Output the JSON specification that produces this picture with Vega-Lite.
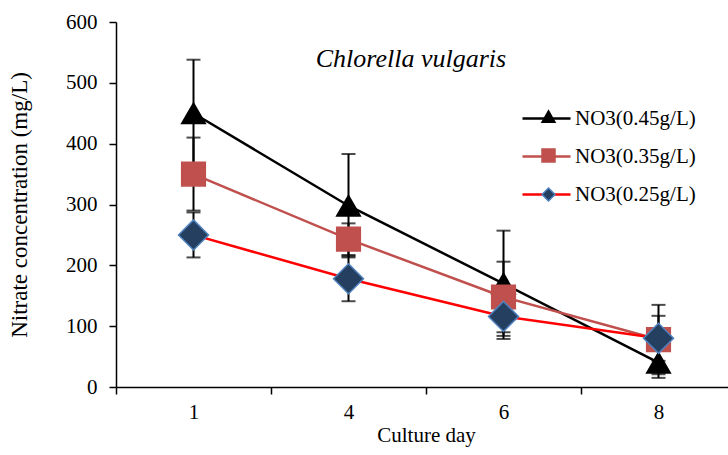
{
  "$schema": "https://vega.github.io/schema/vega-lite/v6.json",
  "width": 620,
  "height": 365,
  "autosize": {"type": "none"},
  "padding": {"left": 116, "top": 22, "right": -8, "bottom": 68},
  "background": "white",
  "title": {
    "text": "Chlorella vulgaris",
    "font": "Liberation Serif",
    "fontStyle": "italic",
    "fontWeight": "normal",
    "fontSize": 26,
    "color": "black",
    "anchor": "middle",
    "frame": "group",
    "baseline": "alphabetic",
    "offset": -82,
    "dx": -15
  },
  "data": {
    "values": [
      {"series": "NO3(0.45g/L)", "day": 1, "value": 450, "lo": 362, "hi": 538},
      {"series": "NO3(0.45g/L)", "day": 4, "value": 298, "lo": 213, "hi": 383},
      {"series": "NO3(0.45g/L)", "day": 6, "value": 170, "lo": 84, "hi": 257},
      {"series": "NO3(0.45g/L)", "day": 8, "value": 40, "lo": 15, "hi": 65},
      {"series": "NO3(0.35g/L)", "day": 1, "value": 350, "lo": 290, "hi": 410},
      {"series": "NO3(0.35g/L)", "day": 4, "value": 243, "lo": 217, "hi": 269},
      {"series": "NO3(0.35g/L)", "day": 6, "value": 148, "lo": 90, "hi": 206},
      {"series": "NO3(0.35g/L)", "day": 8, "value": 78, "lo": 21, "hi": 135},
      {"series": "NO3(0.25g/L)", "day": 1, "value": 250, "lo": 213, "hi": 287},
      {"series": "NO3(0.25g/L)", "day": 4, "value": 178, "lo": 141, "hi": 215},
      {"series": "NO3(0.25g/L)", "day": 6, "value": 116, "lo": 79, "hi": 153},
      {"series": "NO3(0.25g/L)", "day": 8, "value": 80, "lo": 43, "hi": 117}
    ]
  },
  "encoding": {
    "x": {
      "field": "day",
      "type": "ordinal",
      "title": "Culture day",
      "scale": {"paddingInner": 0, "paddingOuter": 0},
      "axis": {
        "labelAngle": 0,
        "tickBand": "extent",
        "tickSize": 7,
        "labelPadding": 7,
        "titlePadding": 2,
        "labelFont": "Liberation Serif",
        "titleFont": "Liberation Serif",
        "labelFontSize": 21,
        "titleFontSize": 21
      }
    }
  },
  "layer": [
    {
      "mark": {"type": "rule", "color": "black", "strokeWidth": 2},
      "encoding": {
        "y": {"field": "lo", "type": "quantitative"},
        "y2": {"field": "hi"}
      }
    },
    {
      "mark": {"type": "tick", "color": "black", "size": 14, "thickness": 2},
      "encoding": {"y": {"field": "hi", "type": "quantitative"}}
    },
    {
      "mark": {"type": "tick", "color": "black", "size": 14, "thickness": 2},
      "encoding": {"y": {"field": "lo", "type": "quantitative"}}
    },
    {
      "mark": {"type": "line", "strokeWidth": 2.5},
      "encoding": {
        "y": {
          "field": "value",
          "type": "quantitative",
          "title": "Nitrate concentration  (mg/L)",
          "scale": {"domain": [0, 600]},
          "axis": {
            "values": [0, 100, 200, 300, 400, 500, 600],
            "tickSize": 7,
            "labelPadding": 12,
            "titlePadding": 34,
            "grid": false,
            "labelFont": "Liberation Serif",
            "titleFont": "Liberation Serif",
            "labelFontSize": 21,
            "titleFontSize": 23
          }
        },
        "color": {
          "field": "series",
          "type": "nominal",
          "scale": {
            "domain": ["NO3(0.45g/L)", "NO3(0.35g/L)", "NO3(0.25g/L)"],
            "range": ["#000000", "#C0504D", "#FF0000"]
          },
          "legend": {
            "orient": "none",
            "legendX": 405,
            "legendY": 71,
            "title": null,
            "symbolType": "stroke",
            "symbolSize": 2304,
            "symbolStrokeWidth": 2.5,
            "labelOffset": 3,
            "rowPadding": 2,
            "padding": 0,
            "labelLimit": 300,
            "labelFont": "Liberation Serif",
            "labelFontSize": 21
          }
        }
      }
    },
    {
      "transform": [{"filter": "datum.series != 'NO3(0.25g/L)'"}],
      "mark": {"type": "point", "filled": true, "opacity": 1, "strokeWidth": 1.5, "size": 560},
      "encoding": {
        "y": {"field": "value", "type": "quantitative"},
        "shape": {
          "field": "series",
          "type": "nominal",
          "sort": "descending",
          "scale": {"range": ["triangle-up", "square", "diamond"]},
          "legend": {
            "orient": "none",
            "legendX": 422,
            "legendY": 84,
            "title": null,
            "symbolSize": 169,
            "symbolStrokeWidth": 1.5,
            "labelOpacity": 0,
            "rowPadding": 17,
            "padding": 0,
            "labelLimit": 300,
            "labelFont": "Liberation Serif",
            "labelFontSize": 21
          }
        },
        "fill": {
          "field": "series",
          "type": "nominal",
          "sort": "descending",
          "scale": {"range": ["#000000", "#C0504D", "#243F60"]},
          "legend": {
            "orient": "none",
            "legendX": 422,
            "legendY": 84,
            "title": null,
            "symbolSize": 169,
            "symbolStrokeWidth": 1.5,
            "labelOpacity": 0,
            "rowPadding": 17,
            "padding": 0,
            "labelLimit": 300,
            "labelFont": "Liberation Serif",
            "labelFontSize": 21
          }
        },
        "stroke": {
          "field": "series",
          "type": "nominal",
          "sort": "descending",
          "scale": {"range": ["#000000", "#C0504D", "#4F81BD"]},
          "legend": {
            "orient": "none",
            "legendX": 422,
            "legendY": 84,
            "title": null,
            "symbolSize": 169,
            "symbolStrokeWidth": 1.5,
            "labelOpacity": 0,
            "rowPadding": 17,
            "padding": 0,
            "labelLimit": 300,
            "labelFont": "Liberation Serif",
            "labelFontSize": 21
          }
        }
      }
    },
    {
      "transform": [{"filter": "datum.series == 'NO3(0.25g/L)'"}],
      "mark": {"type": "point", "filled": true, "opacity": 1, "strokeWidth": 1.5, "size": 900},
      "encoding": {
        "y": {"field": "value", "type": "quantitative"},
        "shape": {"field": "series", "type": "nominal", "sort": "descending"},
        "fill": {"field": "series", "type": "nominal", "sort": "descending"},
        "stroke": {"field": "series", "type": "nominal", "sort": "descending"}
      }
    }
  ],
  "config": {
    "view": {"stroke": null},
    "axis": {
      "domainColor": "black",
      "domainWidth": 1.5,
      "tickColor": "black",
      "tickWidth": 1.5,
      "labelColor": "black",
      "titleFontWeight": "normal",
      "titleColor": "black",
      "grid": false
    },
    "legend": {"labelColor": "black"}
  }
}
